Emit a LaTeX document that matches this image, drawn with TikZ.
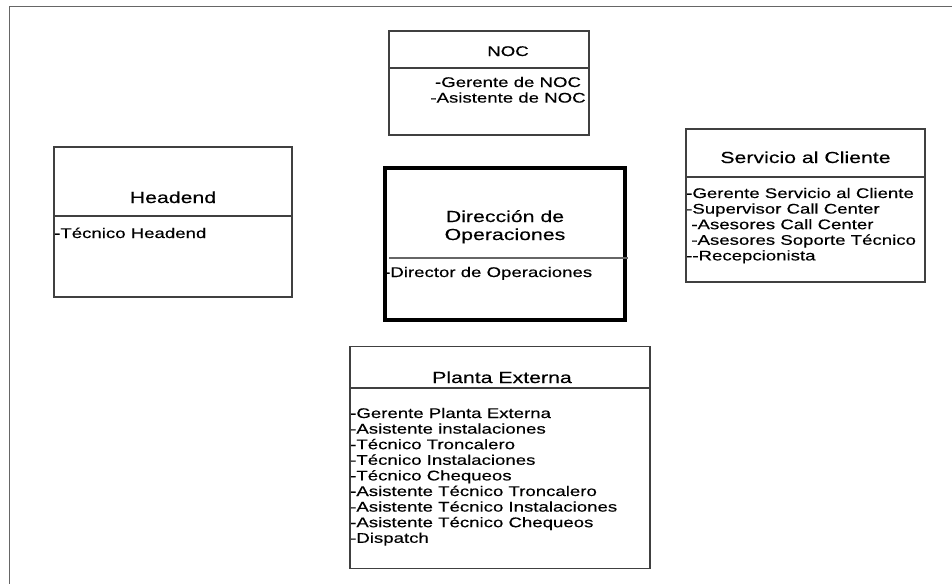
\documentclass[tikz,border=0pt]{standalone}
\usepackage{fontspec}
\setmainfont{Liberation Sans}[FakeStretch=1.33, FakeBold=0.3]
\begin{document}
\begin{tikzpicture}[x=1pt,y=-1pt,
  box/.style={draw=black!75, line width=1.4pt, inner sep=0pt, outer sep=0pt, fill=white},
  mainbox/.style={draw=black, line width=4pt, inner sep=0pt, outer sep=0pt},
  divider/.style={draw=black!75, line width=1.2pt},
  thindiv/.style={draw=black!60, line width=1.2pt},
  title/.style={inner sep=0pt, font=\fontsize{16}{18}\selectfont, align=center, anchor=base},
  items/.style={inner sep=0pt, font=\fontsize{14}{15.6}\selectfont, align=left, anchor=base west},
  frame/.style={draw=black!60, line width=1.5pt}]
\useasboundingbox (0,0) rectangle (952,584);

% outer frame (only top and left edges fall inside the page)
\coordinate (fr-top) at (952,6.5);
\coordinate (fr-corner) at (9.5,6.5);
\coordinate (fr-bottom) at (9.5,584);
\draw[frame] (fr-top) -- (fr-corner) -- (fr-bottom);

% multi-line texts are placed by the baseline of their last line

% NOC
\node[box, minimum width=200pt, minimum height=104pt] (noc) at (489,83) {};
\coordinate (noc-d) at (0,68);
\draw[divider] (noc.west |- noc-d) -- (noc.east |- noc-d);
\node[title, font=\fontsize{14}{16}\selectfont] (noc-t) at (508,56) {NOC};
\node[items, align=center, anchor=base] (noc-i) at (508,102.6) {-Gerente de NOC\\-Asistente de NOC};

% Headend
\node[box, minimum width=238pt, minimum height=150pt] (head) at (173,222) {};
\coordinate (head-d) at (0,216);
\draw[divider] (head.west |- head-d) -- (head.east |- head-d);
\node[title] (head-t) at (173,203) {Headend};
\node[items] (head-i) at (54,238) {-Técnico Headend};

% Servicio al Cliente
\node[box, minimum width=239pt, minimum height=153pt] (serv) at (805.5,205.5) {};
\coordinate (serv-d) at (0,177);
\draw[divider] (serv.west |- serv-d) -- (serv.east |- serv-d);
\node[title] (serv-t) at (805.5,163) {Servicio al Cliente};
\node[items] (serv-i) at (686,260.4) {-Gerente Servicio al Cliente\\-Supervisor Call Center\\\ -Asesores Call Center\\\ -Asesores Soporte Técnico\\-{}-Recepcionista};

% Direccion de Operaciones
\node[mainbox, minimum width=240pt, minimum height=152pt] (dir) at (505,244) {};
\coordinate (dir-d1) at (389,258);
\coordinate (dir-d2) at (628,258);
\draw[thindiv] (dir-d1) -- (dir-d2);
\node[title] (dir-t) at (505,240) {Dirección de\\Operaciones};
\node[items] (dir-i) at (384,277) {-Director de Operaciones};

% Planta Externa
\node[box, minimum width=300pt, minimum height=222pt] (planta) at (500,457.5) {};
\coordinate (planta-d) at (0,388);
\draw[divider] (planta.west |- planta-d) -- (planta.east |- planta-d);
\node[title] (planta-t) at (502,383) {Planta Externa};
\node[items] (planta-i) at (350,542.8) {-Gerente Planta Externa\\-Asistente instalaciones\\-Técnico Troncalero\\-Técnico Instalaciones\\-Técnico Chequeos\\-Asistente Técnico Troncalero\\-Asistente Técnico Instalaciones\\-Asistente Técnico Chequeos\\-Dispatch};
\end{tikzpicture}
\end{document}
